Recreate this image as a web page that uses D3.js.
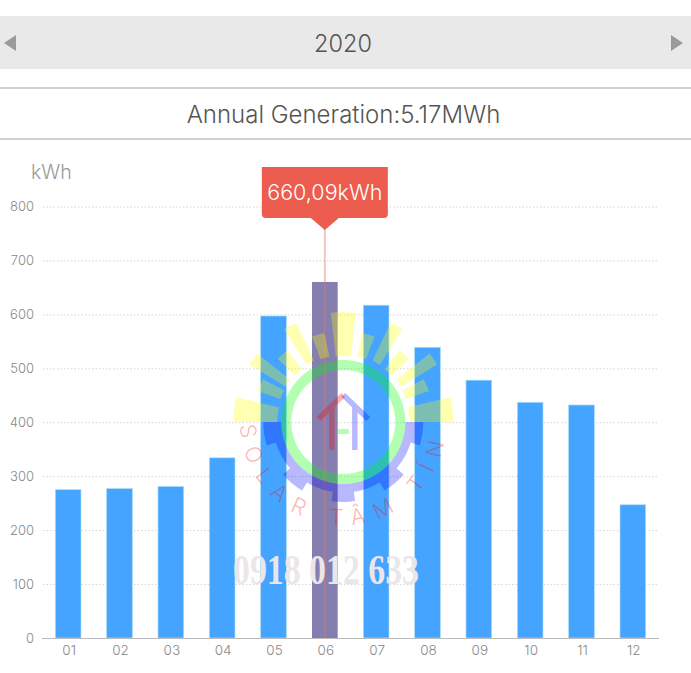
<!DOCTYPE html>
<html><head><meta charset="utf-8">
<script src="https://cdn.jsdelivr.net/npm/d3@7"></script>
<style>
html,body{margin:0;padding:0;background:#fff;overflow:hidden}
svg{display:block}
text{font-family:Inter,"Liberation Sans",sans-serif;font-weight:300}
</style></head><body><div id="c"></div>
<script>
const months=["01","02","03","04","05","06","07","08","09","10","11","12"];
const generation=[275,277,281,334,597,660.09,617,539,478,437,432,247];
const yTicks=[0,100,200,300,400,500,600,700,800];
const yearLabel="2020";
const titleLabel="Annual Generation:5.17MWh";
const unitLabel="kWh";
const tipLabel="660,09kWh";
const activeMonth="06";
const longRays=[29,55];
const shortRays=[16,42,66];
const gearTeeth=[[90,107],[131,149],[171.5,188.5],[211,229],[253,270]];

const W=691,H=673;
const svg=d3.select("#c").append("svg").attr("width",W).attr("height",H);

// header
svg.append("rect").attr("x",0).attr("y",16).attr("width",W).attr("height",53).attr("fill","#e9e9e9");
svg.append("path").attr("d","M4,43L16,35V51Z").attr("fill","#9a9a9a");
svg.append("path").attr("d","M683,43L671,35V51Z").attr("fill","#9a9a9a");
svg.append("text").attr("x",343).attr("y",52).attr("text-anchor","middle").attr("font-size",23.5).attr("fill","#555").text(yearLabel);
[88,139].forEach(y=>svg.append("rect").attr("x",0).attr("y",y-1).attr("width",W).attr("height",2).attr("fill","#cfcfcf"));
svg.append("text").attr("x",343.5).attr("y",123).attr("text-anchor","middle").attr("font-size",24).attr("fill","#555").text(titleLabel);

// chart
const x=d3.scaleBand().domain(months).range([42.5,658.5]).paddingInner(0.5).paddingOuter(0.25);
const y=d3.scaleLinear().domain([0,800]).range([638,206.5]);

const gy=svg.append("g").attr("transform","translate(43,0)")
  .call(d3.axisLeft(y).tickValues(yTicks).tickSize(0).tickPadding(9));
gy.select(".domain").remove();
gy.selectAll("text").attr("font-size",13).attr("fill","#888").style("font-family","Inter,'Liberation Sans',sans-serif").style("font-weight",300);
svg.append("g").selectAll("line").data(yTicks.filter(d=>d>0)).join("line")
  .attr("x1",43).attr("x2",659).attr("y1",d=>y(d)+.5).attr("y2",d=>y(d)+.5)
  .attr("stroke","#d4d4d4").attr("stroke-dasharray","1.5,2");
svg.append("text").attr("x",31).attr("y",178.5).attr("font-size",19.5).attr("fill","#999").text(unitLabel);

svg.append("g").selectAll("rect").data(generation).join("rect")
  .attr("x",(d,i)=>x(months[i])).attr("width",x.bandwidth())
  .attr("y",d=>y(d)).attr("height",d=>y(0)-y(d))
  .attr("fill",(d,i)=>months[i]===activeMonth?"#857fb0":"#44a4ff")
  .attr("stroke",(d,i)=>months[i]===activeMonth?"none":"#a8dcf8").attr("stroke-width",.7);

const gx=svg.append("g").attr("transform","translate(0,638)")
  .call(d3.axisBottom(x).tickSize(0).tickPadding(7.5));
gx.select(".domain").attr("stroke","#bbb").attr("d","M42,0.5H659");
gx.selectAll("text").attr("font-size",13.5).attr("fill","#888").attr("dx",1).style("font-family","Inter,'Liberation Sans',sans-serif").style("font-weight",300);

// tooltip
const cx=x(activeMonth)+x.bandwidth()/2;
svg.append("line").attr("x1",cx).attr("x2",cx).attr("y1",228).attr("y2",638).attr("stroke","#d9786e").attr("stroke-opacity",.45).attr("stroke-width",1.8);
svg.append("path").attr("fill","#ec5c4f")
 .attr("d",`M${cx-63},167H${cx+63}V214Q${cx+63},218 ${cx+59},218H${cx+14}L${cx},230L${cx-14},218H${cx-59}Q${cx-63},218 ${cx-63},214Z`);
svg.append("text").attr("x",cx).attr("y",200).attr("text-anchor","middle").attr("font-size",21.5).attr("fill","#fff").text(tipLabel);

// watermark logo
const logo=svg.append("g").attr("transform","translate(343.3,422)");
const rad=d=>d*Math.PI/180;
const arc=d3.arc();
const wedge=(a0,a1,r0,r1,col)=>logo.append("path").attr("fill",col).attr("fill-opacity",.3)
  .attr("d",arc({innerRadius:r0,outerRadius:r1,startAngle:rad(a0),endAngle:rad(a1)}));
// rays
[[-90,-77],[-6.5,6.5],[77,90]].forEach(a=>wedge(a[0],a[1],66,110,"#ff0"));
longRays.forEach(a=>{wedge(a-3.5,a+3.5,68,110,"#ff0");wedge(-a-3.5,-a+3.5,68,110,"#ff0");});
shortRays.forEach(a=>{wedge(a-4,a+4,67,91,"#ff0");wedge(-a-4,-a+4,67,91,"#ff0");});
// gear
let gearD=arc({innerRadius:62,outerRadius:70.5,startAngle:rad(90),endAngle:rad(270)});
gearTeeth.forEach(t=>{
  gearD+=arc({innerRadius:70.5,outerRadius:80,startAngle:rad(t[0]),endAngle:rad(t[1])});
});
logo.append("path").attr("d",gearD).attr("fill","#00f").attr("fill-opacity",.28);
// ring
logo.append("path").attr("fill","#0f0").attr("fill-opacity",.3)
  .attr("d",arc({innerRadius:52,outerRadius:62,startAngle:0,endAngle:2*Math.PI}));
// house
logo.append("path").attr("d","M0,-27L-25,-3M-11.5,-16V28").attr("fill","none").attr("stroke","#f00").attr("stroke-opacity",.3).attr("stroke-width",5.5);
logo.append("path").attr("d","M0,-27L25,-3M11.5,-16V28").attr("fill","none").attr("stroke","#00f").attr("stroke-opacity",.28).attr("stroke-width",5.5);
logo.append("rect").attr("x",-5.5).attr("y",7).attr("width",11).attr("height",5).attr("fill","#0f0").attr("fill-opacity",.3);
// ring text
const ringR=103;
svg.append("defs").append("path").attr("id","ringPath")
  .attr("d",`M${-ringR},0A${ringR},${ringR} 0 0 0 ${ringR},0A${ringR},${ringR} 0 0 0 ${-ringR},0`);
logo.append("text").attr("font-size",22).attr("fill","#f00").attr("fill-opacity",.3).style("letter-spacing","11px")
  .append("textPath").attr("href","#ringPath").attr("startOffset","24.5%").attr("text-anchor","middle").text("SOLAR TÂM TÍN");
// phone
svg.append("text").attr("x",233).attr("y",584).attr("textLength",186).attr("lengthAdjust","spacingAndGlyphs")
  .attr("font-size",42).attr("fill","#ebe6e9").style("font-family","'Liberation Serif',serif").style("font-weight",700).text("0918 012 633");
</script></body></html>
